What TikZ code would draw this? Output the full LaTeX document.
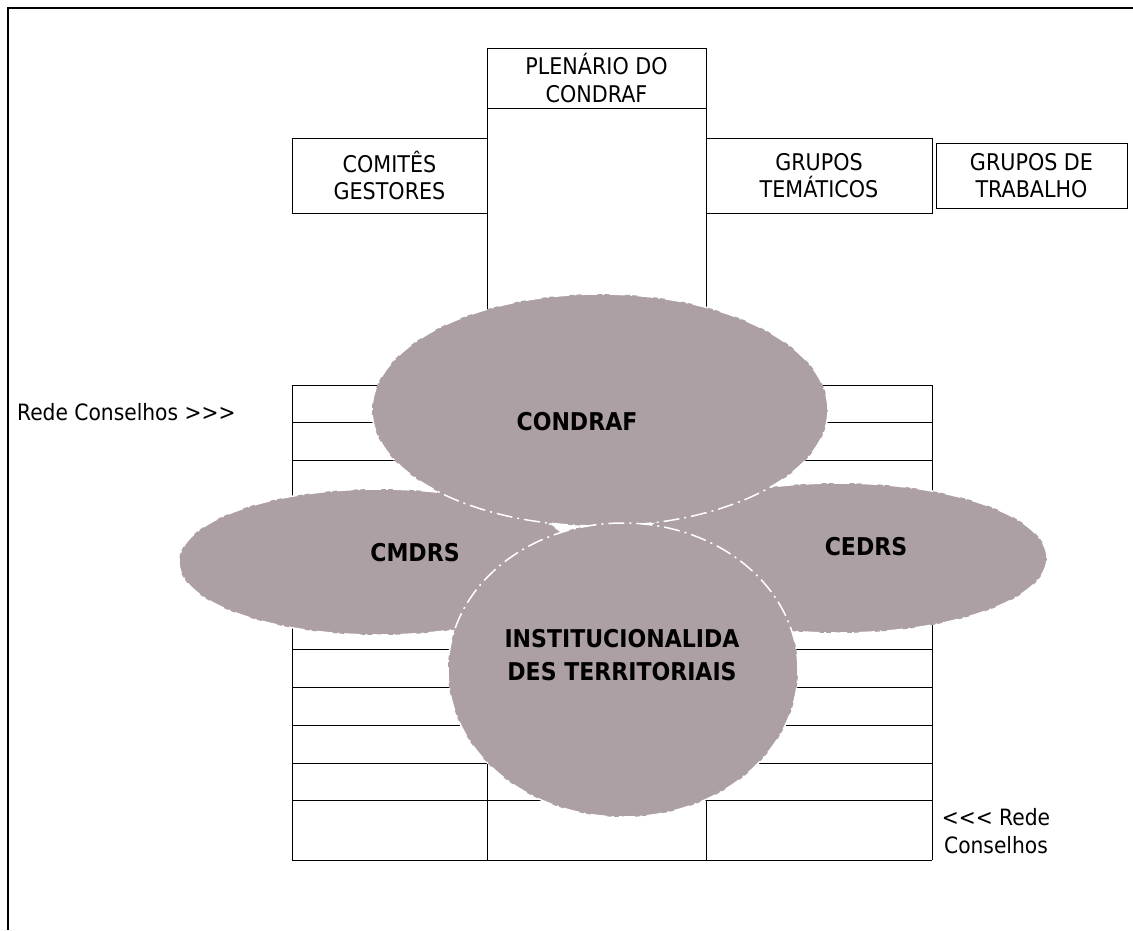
\documentclass[tikz,border=0pt]{standalone}
\usepackage{fontspec}
\setmainfont{DejaVu Sans Condensed}
\usetikzlibrary{shapes.geometric}
\definecolor{blobgray}{RGB}{173,160,165}
\begin{document}
\begin{tikzpicture}[x=1pt,y=-1pt,
  gridline/.style={line width=1pt,black},
  framebox/.style={draw=black, line width=1pt, inner sep=0pt, align=center, font=\fontsize{23}{27.5}\selectfont},
  blob/.style={ellipse, fill=blobgray, draw=white, line width=1.5pt, dash pattern=on 16pt off 5pt on 2pt off 5pt, inner sep=0pt},
  plaintext/.style={inner sep=0pt, align=center, font=\fontsize{22.5}{28}\selectfont},
  boldtext/.style={inner sep=0pt, align=center, font=\fontsize{24.5}{33}\selectfont\bfseries}]
\useasboundingbox (0,0) rectangle (1133,930);
% frame
\draw[line width=1.2pt] (8,930) -- (8,8) -- (1133,8);
% grid
\foreach \k in {0,...,11} {
  \draw[gridline] (292,385+37.8*\k) -- (932,385+37.8*\k);
}
\draw[gridline] (292,860) -- (932,860);
\draw[gridline] (292,385) -- (292,860);
\draw[gridline] (932,385) -- (932,860);
\draw[gridline] (487,108) -- (487,860);
\draw[gridline] (706,108) -- (706,860);
% top boxes
\node[framebox, minimum width=219pt, minimum height=60pt] (plen) at (596.5,78) {PLENÁRIO DO\\CONDRAF};
\node[framebox, minimum width=195pt, minimum height=75pt] (comites) at (389.5,175.5) {COMITÊS\\GESTORES};
\node[framebox, minimum width=226pt, minimum height=75pt] (tematicos) at (819,175.5) {GRUPOS\\TEMÁTICOS};
\node[framebox, minimum width=191pt, minimum height=65pt] (trabalho) at (1031.5,175.5) {GRUPOS DE\\TRABALHO};
% ellipses
\node[blob, minimum width=400pt, minimum height=146pt] (cmdrs) at (379,562) {};
\node[blob, minimum width=418pt, minimum height=150pt] (cedrs) at (838,558) {};
\node[blob, minimum width=456pt, minimum height=232pt] (condraf) at (600,410) {};
\node[blob, minimum width=350pt, minimum height=294pt] (inst) at (623,670) {};
% labels
\node[boldtext] (tcondraf) at (577,422) {CONDRAF};
\node[boldtext] (tcmdrs) at (415,553) {CMDRS};
\node[boldtext] (tcedrs) at (866,547) {CEDRS};
\node[boldtext] (tinst) at (622,655) {INSTITUCIONALIDA\\DES TERRITORIAIS};
\node[plaintext, anchor=west] (rede1) at (17,412) {Rede Conselhos >{}>{}>};
\node[plaintext] (rede2) at (996,831) {<{}<{}< Rede\\Conselhos};
\end{tikzpicture}
\end{document}
